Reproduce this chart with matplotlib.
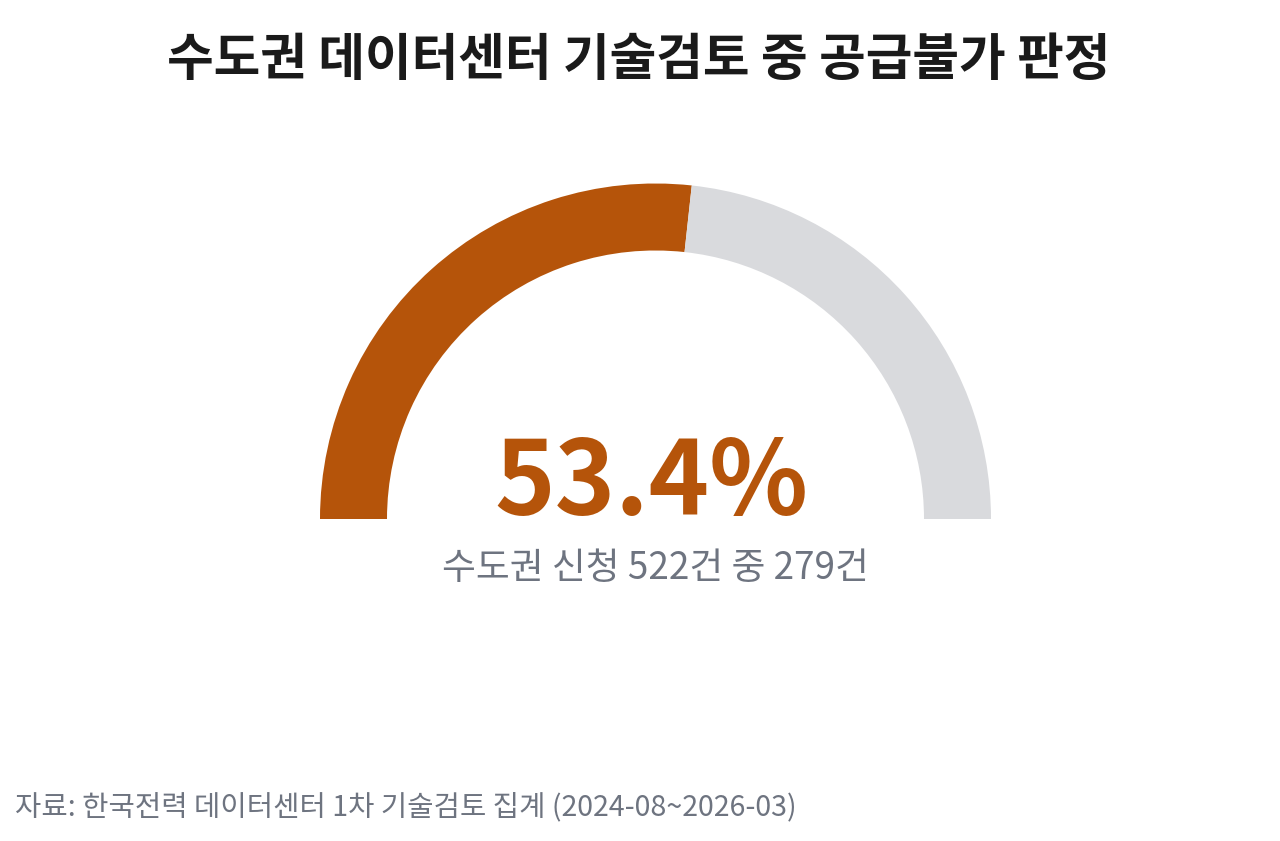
import matplotlib
matplotlib.use("Agg")
import matplotlib.pyplot as plt

plt.rcParams['font.family'] = ['Noto Sans CJK KR', 'DejaVu Sans']

title = "수도권 데이터센터 기술검토 중 공급불가 판정"
total_applications = 522
rejected = 279
labels = ["공급불가", "기타"]
big_label = f"{rejected / total_applications * 100:.1f}%"
sub_label = f"수도권 신청 {total_applications}건 중 {rejected}건"
source = "자료: 한국전력 데이터센터 1차 기술검토 집계 (2024-08~2026-03)"

ORANGE = "#B5540A"
GREY = "#D9DADD"
TEXT_GREY = "#6E7480"

W, H = 1280, 841
fig = plt.figure(figsize=(W / 100, H / 100), dpi=100)
ax = fig.add_axes([0, 0, 1, 1])

cx, cy = 655.5, H - 519
R = 335.5
ring = 67

values = [rejected, total_applications - rejected, total_applications]
wedges, _ = ax.pie(values, colors=[ORANGE, GREY, "white"], startangle=180,
                   counterclock=False, center=(cx, cy), radius=R,
                   wedgeprops=dict(width=ring, linewidth=0), frame=True)
wedges[2].set_visible(False)
ax.set_xlim(0, W)
ax.set_ylim(0, H)
ax.set_aspect("auto")
ax.axis("off")

fig.text(639 / W, 1 - 60 / H, title, ha="center", va="center",
         fontsize=36.5, fontweight="bold", color="#1A1A1A")
fig.text(651 / W, 1 - 485 / H, big_label, ha="center", va="center",
         fontsize=74, color=ORANGE, fontweight="bold")
fig.text(655 / W, 1 - 568 / H, sub_label, ha="center", va="center",
         fontsize=26.5, color=TEXT_GREY)
fig.text(15 / W, 1 - 807 / H, source, ha="left", va="center",
         fontsize=20.6, color=TEXT_GREY)

fig.savefig("out.png", dpi=100, facecolor="white")
